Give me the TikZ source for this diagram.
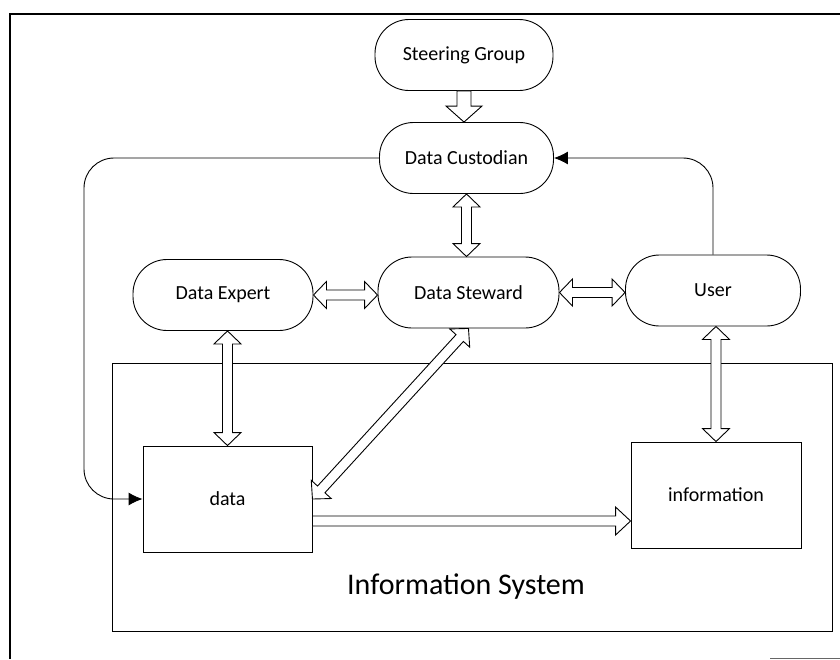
\documentclass[tikz,border=0pt]{standalone}
\usepackage{fontspec}
\setmainfont{Carlito}
\usetikzlibrary{calc,arrows.meta}
\tikzset{
  rbox/.style={draw, line width=0.9pt, rounded corners=34pt, minimum height=71pt, inner sep=0pt, font=\fontsize{20}{24}\selectfont},
  sqbox/.style={draw, line width=0.9pt, minimum width=170pt, minimum height=106pt, inner sep=0pt, font=\fontsize{20}{24}\selectfont},
  harrow/.style={draw, fill=white, line width=0.9pt, line join=miter},
  conn/.style={draw, line width=0.9pt, rounded corners=30pt, -{Latex[length=14pt,width=13pt]}},
  frame/.style={draw, line width=1.2pt},
}
% hollow double-headed arrow between two named coordinates
\newcommand{\dblarr}[2]{%
  \coordinate (hA) at ($(#1)!13pt!(#2)$);
  \coordinate (hB) at ($(#2)!13pt!(#1)$);
  \draw[harrow] (#1) -- ($(hA)!13.5pt!90:(#2)$) -- ($(hA)!5pt!90:(#2)$)
     -- ($(hB)!5pt!-90:(#1)$) -- ($(hB)!13.5pt!-90:(#1)$) -- (#2)
     -- ($(hB)!13.5pt!90:(#1)$) -- ($(hB)!5pt!90:(#1)$)
     -- ($(hA)!5pt!-90:(#2)$) -- ($(hA)!13.5pt!-90:(#2)$) -- cycle;}
% hollow single-headed arrow: tail, tip, half shaft, half head, head length
\newcommand{\sglarr}[5]{%
  \coordinate (hB) at ($(#2)!#5!(#1)$);
  \draw[harrow] ($(#1)!#3!90:(#2)$) -- ($(hB)!#3!-90:(#1)$) -- ($(hB)!#4!-90:(#1)$)
     -- (#2) -- ($(hB)!#4!90:(#1)$) -- ($(hB)!#3!90:(#1)$) -- ($(#1)!#3!-90:(#2)$) -- cycle;}
\begin{document}
\begin{tikzpicture}[x=1pt, y=-1pt]
  \useasboundingbox (0,0) rectangle (840,659);
  % outer frame
  \draw[frame] (840,14) -- (10,14) -- (10,659);
  \draw[line width=0.8pt, black!60] (770,658) -- (840,658);

  % Information System container
  \node[draw, line width=0.9pt, minimum width=720pt, minimum height=268pt, inner sep=0pt] (is) at (472,497) {};
  \node[font=\fontsize{30}{36}\selectfont] (islabel) at (466,587) {Information System};

  % nodes
  \node[rbox, minimum width=178pt] (sg) at (464,55) {Steering Group};
  \node[rbox, minimum width=174pt] (dc) at (466.5,158) {Data Custodian};
  \node[rbox, minimum width=181pt] (ds) at (468.5,292.5) {Data Steward};
  \node[rbox, minimum width=180pt] (de) at (223,295) {Data Expert};
  \node[rbox, minimum width=175pt] (us) at (713,290.5) {User};
  \node[sqbox, minimum width=169pt] (data) at (227.5,499) {data};
  \node[sqbox] (info) at (716,495) {information};

  % thin connectors
  \coordinate (lft) at (84,0);
  \draw[conn] (dc.west) -| (lft |- data.west) -- (data.west);
  \draw[conn] (us.north) |- (dc.east);

  % hollow arrows
  \coordinate (sgb) at (sg.south);
  \coordinate (dct) at (sg.south |- dc.north);
  \sglarr{sgb}{dct}{7pt}{18pt}{16pt}

  \coordinate (dcb) at (dc.south);
  \coordinate (dst) at (dc.south |- ds.north);
  \dblarr{dcb}{dst}

  \coordinate (dee) at (de.east);
  \coordinate (dsw) at (de.east -| ds.west);
  \dblarr{dee}{dsw}

  \coordinate (dse) at (ds.east);
  \coordinate (usw) at (ds.east -| us.west);
  \dblarr{dse}{usw}

  \coordinate (deb) at (data.north |- de.south);
  \coordinate (datat) at (data.north);
  \dblarr{deb}{datat}

  \coordinate (usb) at (info.north |- us.south);
  \coordinate (infot) at (info.north);
  \dblarr{usb}{infot}

  \coordinate (datae) at (data.east);
  \coordinate (dsb) at (ds.south);
  \dblarr{datae}{dsb}

  \coordinate (d1) at ([yshift=-22pt]data.east);
  \coordinate (i1) at (d1 -| info.west);
  \sglarr{d1}{i1}{5pt}{14pt}{15pt}
\end{tikzpicture}
\end{document}
